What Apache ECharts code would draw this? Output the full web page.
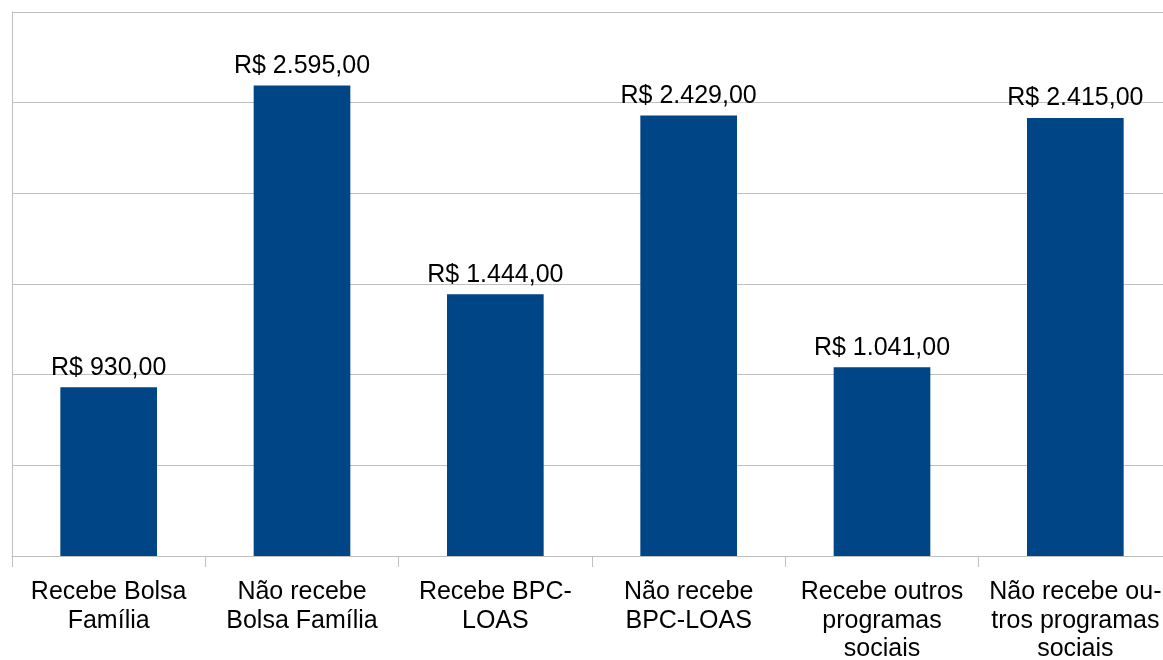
<!DOCTYPE html>
<html>
<head>
<meta charset="utf-8">
<script src="https://cdn.jsdelivr.net/npm/echarts@6/dist/echarts.min.js"></script>
<style>
html,body{margin:0;padding:0;background:#fff;}
#chart{width:1163px;height:660px;}
</style>
</head>
<body>
<div id="chart"></div>
<script>
var categories = [
  "Recebe Bolsa\nFamília",
  "Não recebe\nBolsa Família",
  "Recebe BPC-\nLOAS",
  "Não recebe\nBPC-LOAS",
  "Recebe outros\nprogramas\nsociais",
  "Não recebe ou-\ntros programas\nsociais"
];
var values = [930, 2595, 1444, 2429, 1041, 2415];

function fmt(v) {
  var parts = v.toFixed(2).split(".");
  var intPart = parts[0].replace(/\B(?=(\d{3})+(?!\d))/g, ".");
  return "R$ " + intPart + "," + parts[1];
}

var chart = echarts.init(document.getElementById("chart"), null, {renderer: "canvas"});
chart.setOption({
  animation: false,
  backgroundColor: "#ffffff",
  grid: {left: 12, top: 12, bottom: 104, right: -9, containLabel: false, outerBoundsMode: "none"},
  xAxis: {
    type: "category",
    data: categories,
    axisLine: {show: true, lineStyle: {color: "#c0c0c0", width: 1}},
    axisTick: {show: true, length: 11, alignWithLabel: false, lineStyle: {color: "#c0c0c0"}},
    axisLabel: {
      interval: 0,
      margin: 22,
      color: "#000000",
      fontFamily: "Liberation Sans",
      fontSize: 25,
      lineHeight: 28.5
    }
  },
  yAxis: {
    type: "value",
    min: 0,
    max: 3000,
    interval: 500,
    axisLine: {show: true, lineStyle: {color: "#c0c0c0", width: 1}},
    axisTick: {show: false},
    axisLabel: {show: false},
    splitLine: {show: true, lineStyle: {color: "#c0c0c0", width: 1}}
  },
  series: [{
    type: "bar",
    data: values,
    barWidth: "50%",
    itemStyle: {color: "#004586"},
    label: {
      show: true,
      position: "top",
      distance: 7,
      color: "#000000",
      fontFamily: "Liberation Sans",
      fontSize: 25,
      formatter: function (p) { return fmt(p.value); }
    }
  }]
});
</script>
</body>
</html>
